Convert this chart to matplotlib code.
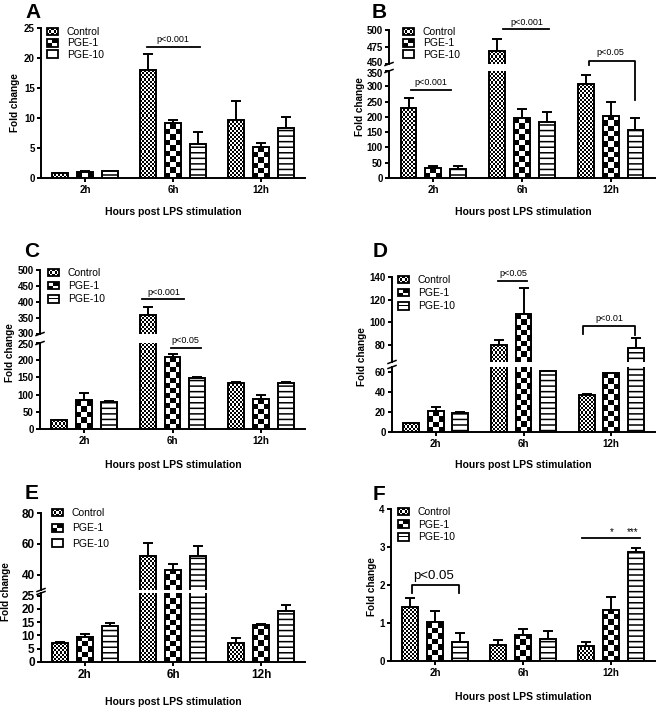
import numpy as np
import matplotlib
matplotlib.use('Agg')
import matplotlib.pyplot as plt
from matplotlib.patches import Rectangle, Patch
from matplotlib.legend_handler import HandlerBase
from matplotlib.transforms import ScaledTranslation

plt.rcParams['font.family'] = ['Liberation Sans', 'DejaVu Sans']
plt.rcParams['hatch.linewidth'] = 1.1

# ---------------- data ----------------
time_labels = ['2h', '6h', '12h']
series_names = ['Control', 'PGE-1', 'PGE-10']

A_control = [0.8, 18.0, 9.7]
A_control_sem = [0.1, 2.7, 3.2]
A_pge1 = [1.0, 9.1, 5.1]
A_pge1_sem = [0.2, 0.5, 0.8]
A_pge10 = [1.2, 5.7, 8.4]
A_pge10_sem = [0.05, 1.9, 1.8]

B_control = [229, 469, 307]
B_control_sem = [32, 18, 30]
B_pge1 = [32, 196, 203]
B_pge1_sem = [7, 30, 45]
B_pge10 = [30, 182, 158]
B_pge10_sem = [9, 33, 38]

C_control = [25, 358, 134]
C_control_sem = [1, 26, 2]
C_pge1 = [84, 208, 86]
C_pge1_sem = [20, 9, 13]
C_pge10 = [79, 148, 134]
C_pge10_sem = [1, 2, 2]

D_control = [9, 80, 37]
D_control_sem = [0.5, 4, 1]
D_pge1 = [21, 107, 59]
D_pge1_sem = [4, 23, 0.5]
D_pge10 = [19, 61, 77]
D_pge10_sem = [0.8, 0.5, 9]

E_control = [7.0, 52, 7.3]
E_control_sem = [0.4, 8.5, 1.6]
E_pge1 = [9.5, 43, 14.0]
E_pge1_sem = [0.9, 4, 0.2]
E_pge10 = [13.6, 52, 19.3]
E_pge10_sem = [1.2, 6.5, 2.0]

F_control = [1.41, 0.42, 0.40]
F_control_sem = [0.25, 0.13, 0.11]
F_pge1 = [1.02, 0.69, 1.35]
F_pge1_sem = [0.30, 0.16, 0.34]
F_pge10 = [0.50, 0.58, 2.87]
F_pge10_sem = [0.24, 0.22, 0.11]

# ---------------- layout helpers ----------------
W, H = 656, 708
fig = plt.figure(figsize=(W / 100, H / 100), dpi=100)

OFFS = [-0.28, 0.0, 0.28]
BW = 0.18
LW = 1.4


def px_axes(l, r, t, b):
    return fig.add_axes([l / W, 1 - b / H, (r - l) / W, (b - t) / H])


def style(ax, ylim, yticks, show_x=True, fs=7):
    ax.set_autoscale_on(False)
    ax.set_xlim(-0.5, 2.5)
    ax.set_ylim(*ylim)
    ax.set_yticks(yticks)
    ax.set_yticklabels([str(t) for t in yticks], fontweight='bold', fontsize=fs)
    ax.spines['top'].set_visible(False)
    ax.spines['right'].set_visible(False)
    ax.spines['left'].set_linewidth(LW)
    ax.spines['bottom'].set_linewidth(LW)
    ax.tick_params(axis='y', width=LW, length=3, pad=1.5)
    if show_x:
        ax.set_xticks([0, 1, 2])
        ax.set_xticklabels(time_labels, fontweight='bold', fontsize=fs)
        ax.tick_params(axis='x', width=LW, length=3, pad=2)
    else:
        ax.spines['bottom'].set_visible(False)
        ax.set_xticks([])
    ax.patch.set_alpha(0)


def nudge_label(ax, idx, dy_px):
    lab = ax.yaxis.get_major_ticks()[idx].label1
    lab.set_transform(lab.get_transform() + ScaledTranslation(0, dy_px / 100, fig.dpi_scale_trans))


def checker(ax, bar, sq):
    x0 = bar.get_x()
    w = bar.get_width()
    h = bar.get_height()
    ylo, yhi = ax.get_ylim()
    ys, ye = max(0, ylo), min(h, yhi)
    if ye <= ys:
        return
    p0 = ax.transData.transform((x0, ys))
    p1 = ax.transData.transform((x0 + w, ye))
    nx = max(1, int(round((p1[0] - p0[0]) / sq)))
    ny = max(1, int(round((p1[1] - p0[1]) / sq)))
    arr = (np.add.outer(np.arange(ny), np.arange(nx)) % 2).astype(float)
    ax.imshow(arr, cmap='gray', vmin=0, vmax=1, extent=(x0, x0 + w, ys, ye),
              origin='lower', aspect='auto', interpolation='nearest', zorder=3)


def draw_bars(ax, series, sems):
    x = np.arange(len(time_labels))
    for k, (vals, err) in enumerate(zip(series, sems)):
        xs = x + OFFS[k]
        ax.errorbar(xs, vals, yerr=[np.zeros(len(vals)), err], fmt='none',
                    ecolor='black', elinewidth=LW, capsize=3.5, capthick=LW, zorder=2)
        if k == 2:
            ax.bar(xs, vals, BW, facecolor='white', edgecolor='black', linewidth=LW,
                   hatch='---', zorder=4)
        else:
            bars = ax.bar(xs, vals, BW, facecolor='none', edgecolor='black',
                          linewidth=LW, zorder=4)
            for b in bars:
                checker(ax, b, 2.1 if k == 0 else 5.3)


def break_marks(ax, where):
    bb = ax.get_window_extent()
    dx = 4.0 / bb.width
    dy = 1.5 / bb.height
    y = 0 if where == 'bottom' else 1
    ax.plot([-dx, dx], [y - dy, y + dy], transform=ax.transAxes, color='black',
            lw=1.1, clip_on=False, zorder=5)


class PatternHandler(HandlerBase):
    def __init__(self, kind):
        super().__init__()
        self.kind = kind

    def create_artists(self, legend, orig_handle, xdescent, ydescent, width, height,
                       fontsize, trans):
        x0, y0 = -xdescent, -ydescent
        arts = [Rectangle((x0, y0), width, height, facecolor='white', edgecolor='none',
                          transform=trans)]
        if self.kind in ('fine', 'coarse'):
            nx, ny = (5, 3) if self.kind == 'fine' else (2, 2)
            cw, ch = width / nx, height / ny
            for i in range(nx):
                for j in range(ny):
                    if (i + j) % 2 == 0:
                        arts.append(Rectangle((x0 + i * cw, y0 + j * ch), cw, ch,
                                              facecolor='black', edgecolor='none',
                                              transform=trans))
        else:
            arts.append(Rectangle((x0, y0 + height * 0.45), width, height * 0.1,
                                  facecolor='black', edgecolor='none', transform=trans))
        arts.append(Rectangle((x0, y0), width, height, facecolor='none',
                              edgecolor='black', linewidth=1.3, transform=trans))
        return arts


def add_legend(ax, hx, ry, fs=7.5, spacing=0.12):
    handles = [Patch(label=n) for n in series_names]
    hmap = {handles[0]: PatternHandler('fine'), handles[1]: PatternHandler('coarse'),
            handles[2]: PatternHandler('stripe')}
    half = fs * 100 / 72 * 1.117 / 2
    ax.legend(handles=handles, labels=series_names, handler_map=hmap,
              loc='upper left', bbox_to_anchor=(hx / W, 1 - (ry - half) / H),
              bbox_transform=fig.transFigure, frameon=False, fontsize=fs,
              handlelength=1.05, handleheight=0.75, handletextpad=0.85,
              labelspacing=spacing, borderpad=0, borderaxespad=0)


def sig(ax, x0, x1, y, text, tx, ty, legs=None, fs=6.5):
    if legs is None:
        ax.plot([x0, x1], [y, y], color='black', lw=1.3, clip_on=False, zorder=6)
    else:
        ax.plot([x0, x0, x1, x1], [legs[0], y, y, legs[1]], color='black', lw=1.3,
                clip_on=False, zorder=6)
    if text:
        ax.text(tx, ty, text, ha='center', va='bottom', fontsize=fs, clip_on=False)


def labels(xl, yl, ylab_x, ylab_y, xlab_x, xlab_y, letter, fs=7.2):
    fig.text(ylab_x / W, 1 - ylab_y / H, 'Fold change', rotation=90, ha='center',
             va='center', fontweight='bold', fontsize=fs)
    fig.text(xlab_x / W, 1 - xlab_y / H, 'Hours post LPS stimulation', ha='center',
             va='center', fontweight='bold', fontsize=7.5)
    fig.text(xl / W, 1 - yl / H, letter, ha='left', va='baseline', fontweight='bold',
             fontsize=15)


# ---------------- Panel A ----------------
axA = px_axes(41, 305, 28, 178)
style(axA, (0, 25), [0, 5, 10, 15, 20, 25])
draw_bars(axA, [A_control, A_pge1, A_pge10], [A_control_sem, A_pge1_sem, A_pge10_sem])
add_legend(axA, 47, 33)
sig(axA, 0.70, 1.31, 21.8, 'p<0.001', 1.0, 22.3)
labels(25, 18, 15, 103, 173, 212, 'A')

# ---------------- Panel B ----------------
axBb = px_axes(389, 655, 71, 178)
axBt = px_axes(389, 655, 30, 64)
style(axBb, (0, 350), list(range(0, 351, 50)))
style(axBt, (450, 500), [450, 475, 500], show_x=False)
for ax in (axBb, axBt):
    draw_bars(ax, [B_control, B_pge1, B_pge10], [B_control_sem, B_pge1_sem, B_pge10_sem])
break_marks(axBb, 'top')
break_marks(axBt, 'bottom')
nudge_label(axBt, 0, 1.8)
nudge_label(axBb, -1, -1.8)
add_legend(axBt, 403, 33)
sig(axBb, -0.25, 0.20, 287, 'p<0.001', -0.03, 297)
sig(axBt, 0.79, 1.30, 501.5, 'p<0.001', 1.05, 505)
sig(axBb, 1.75, 2.28, 384, 'p<0.05', 2.0, 397, legs=(368, 254))
labels(372, 18, 360, 107, 523, 212, 'B')

# ---------------- Panel C ----------------
axCb = px_axes(40, 305, 343, 429)
axCt = px_axes(40, 305, 270, 334)
style(axCb, (0, 250), list(range(0, 251, 50)))
style(axCt, (300, 500), list(range(300, 501, 50)), show_x=False)
for ax in (axCb, axCt):
    draw_bars(ax, [C_control, C_pge1, C_pge10], [C_control_sem, C_pge1_sem, C_pge10_sem])
break_marks(axCb, 'top')
break_marks(axCt, 'bottom')
nudge_label(axCt, 0, 1.0)
nudge_label(axCb, -1, -1.0)
add_legend(axCt, 48, 274, spacing=0.3)
sig(axCt, 0.66, 1.125, 409, 'p<0.001', 0.9, 416)
sig(axCb, 0.98, 1.32, 235, 'p<0.05', 1.15, 244)
labels(24, 257, 10, 353, 173, 465, 'C')

# ---------------- Panel D ----------------
axDb = px_axes(392, 655, 367, 432)
axDt = px_axes(392, 655, 277, 362)
style(axDb, (0, 65), [0, 20, 40, 60])
style(axDt, (65, 140), [80, 100, 120, 140], show_x=False)
for ax in (axDb, axDt):
    draw_bars(ax, [D_control, D_pge1, D_pge10], [D_control_sem, D_pge1_sem, D_pge10_sem])
break_marks(axDb, 'top')
break_marks(axDt, 'bottom')
add_legend(axDt, 398, 281, spacing=0.3)
sig(axDt, 0.71, 1.04, 136.5, 'p<0.05', 0.88, 139.5)
sig(axDt, 1.68, 2.27, 96.8, 'p<0.01', 1.98, 99.5, legs=(89.7, 88.8))
labels(373, 257, 362, 357, 523, 465, 'D')

# ---------------- Panel E ----------------
axEb = px_axes(41, 305, 593, 662)
axEt = px_axes(41, 305, 513, 590)
style(axEb, (0, 26), [0, 5, 10, 15, 20, 25], fs=8.5)
style(axEt, (30, 80), [40, 60, 80], show_x=False, fs=8.5)
for ax in (axEb, axEt):
    draw_bars(ax, [E_control, E_pge1, E_pge10], [E_control_sem, E_pge1_sem, E_pge10_sem])
break_marks(axEb, 'top')
break_marks(axEt, 'bottom')
add_legend(axEt, 52, 514, spacing=0.5)
labels(25, 499, 6, 592, 173, 702, 'E')

# ---------------- Panel F ----------------
axF = px_axes(391, 655, 509, 661)
style(axF, (0, 4), [0, 1, 2, 3, 4])
draw_bars(axF, [F_control, F_pge1, F_pge10], [F_control_sem, F_pge1_sem, F_pge10_sem])
add_legend(axF, 398, 513, spacing=0.25)
sig(axF, -0.26, 0.27, 1.99, 'p<0.05', -0.02, 2.07, legs=(1.80, 1.80), fs=9.5)
sig(axF, 1.67, 2.33, 3.24, None, 0, 0)
axF.text(2.01, 3.27, '*', ha='center', va='bottom', fontsize=7)
axF.text(2.25, 3.27, '***', ha='center', va='bottom', fontsize=7)
labels(373, 500, 372, 587, 523, 697, 'F')

fig.savefig('out.png', dpi=100)
